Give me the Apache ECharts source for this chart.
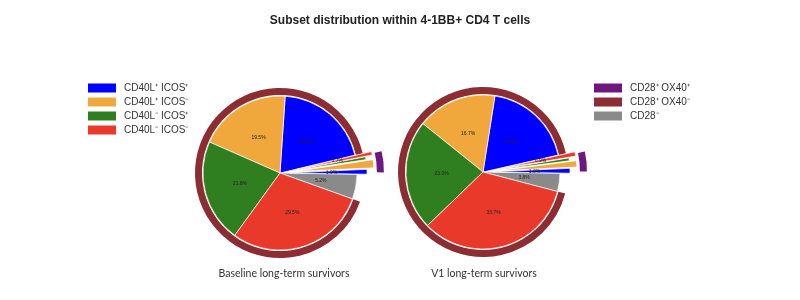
<!DOCTYPE html>
<html>
<head>
<meta charset="utf-8">
<script src="https://cdn.jsdelivr.net/npm/echarts@6/dist/echarts.min.js"></script>
<style>
  html, body { margin: 0; padding: 0; background: #fff; }
  #chart { width: 800px; height: 300px; }
</style>
</head>
<body>
<div id="chart"></div>
<script>
const chartTitle = "Subset distribution within 4-1BB+ CD4 T cells";
const panelTitles = ["Baseline long-term survivors", "V1 long-term survivors"];
const subsetNames = ["CD40L⁺ ICOS⁺", "CD40L⁺ ICOS⁻", "CD40L⁻ ICOS⁺", "CD40L⁻ ICOS⁻"];
const cd28Names = ["CD28⁺ OX40⁺", "CD28⁺ OX40⁻", "CD28⁻"];

// inner pie, % of 4-1BB+ CD4 T cells
const baselineMain = [20.2, 19.5, 21.6, 29.5];   // CD28+ OX40- split
const baselineSliver = [1.0, 1.7, 0.6, 0.7];     // CD28+ OX40+ split (exploded)
const baselineCD28neg = 5.2;
const baselineRing = [4.0, 90.8, 5.2];           // OX40+, OX40-, CD28-

const v1Main = [19.0, 16.7, 23.0, 33.7];
const v1Sliver = [1.0, 1.3, 0.6, 0.9];
const v1CD28neg = 3.8;
const v1Ring = [3.8, 92.4, 3.8];

const subsetColors = ["#0000ff", "#f0a83c", "#2f7e1f", "#e8392a"];
const cd28Colors = ["#6e1780", "#8c2d34", "#8a8a8a"];

const el = (id) => document.getElementById(id);
const chart = echarts.init(el("chart"));

const longSliver = [1, 3]; // these are pushed out further

function hidden(name, value) {
  return { name, value, itemStyle: { color: "transparent", borderWidth: 0 }, label: { show: false } };
}

function pieSeries(center, startAngle, radius, offset, data) {
  return {
    type: "pie",
    center, radius, startAngle,
    clockwise: false,
    selectedMode: "multiple",
    selectedOffset: offset,
    avoidLabelOverlap: false,
    animation: false,
    silent: true,
    label: {
      show: true, position: "inside", fontSize: 5, color: "#222",
      fontFamily: "Liberation Sans",
      formatter: (p) => p.value.toFixed(1) + "%"
    },
    labelLine: { show: false },
    itemStyle: { borderColor: "rgba(255,255,255,0.85)", borderWidth: 0.8 },
    emphasis: { disabled: true },
    data
  };
}

function panel(center, main, sliver, grey, ring, key) {
  const start = -1 - grey * 3.6;
  // sliver items get their own names so that "selected" does not spread to the main slices
  const sliverItem = (v, i) => ({ name: key + "x" + i, value: v, selected: true, itemStyle: { color: subsetColors[i] } });
  const mainData = [
    { name: cd28Names[2], value: grey, itemStyle: { color: cd28Colors[2] } },
    ...sliver.map((v, i) => longSliver.includes(i) ? hidden(key + "s" + i, v) : sliverItem(v, i)),
    ...main.map((v, i) => ({ name: subsetNames[i], value: v, itemStyle: { color: subsetColors[i] } }))
  ];
  const extraData = [
    hidden(key + "g", grey),
    ...sliver.map((v, i) => longSliver.includes(i) ? sliverItem(v, i) : hidden(key + "t" + i, v)),
    ...main.map((v, i) => hidden(key + "m" + i, v))
  ];
  const ringData = [
    hidden(key + "r", ring[2]),
    { name: cd28Names[0], value: ring[0], selected: true, itemStyle: { color: cd28Colors[0] } },
    { name: cd28Names[1], value: ring[1], itemStyle: { color: cd28Colors[1] } }
  ];
  const ringSeries = pieSeries(center, start, [78, 85], 19, ringData);
  ringSeries.label = { show: false };
  ringSeries.itemStyle = { borderWidth: 0 };
  return [
    ringSeries,
    pieSeries(center, start, [0, 77], 10, mainData),
    pieSeries(center, start, [0, 77], 17, extraData)
  ];
}

const legendBase = {
  orient: "vertical",
  icon: "rect",
  itemWidth: 28,
  itemHeight: 9,
  itemGap: 4,
  selectedMode: false,
  itemStyle: { borderWidth: 0 },
  textStyle: { fontSize: 10, color: "#333", fontFamily: "Liberation Sans", padding: [0, 0, 0, 3] }
};

chart.setOption({
  animation: false,
  title: {
    text: chartTitle, left: "center", top: 10,
    textStyle: { fontSize: 12, fontWeight: "bold", color: "#222", fontFamily: "Liberation Sans" }
  },
  legend: [
    Object.assign({}, legendBase, { data: subsetNames, left: 83, top: 78 }),
    Object.assign({}, legendBase, { data: cd28Names, left: 589, top: 78 })
  ],
  graphic: [
    { type: "text", x: 284, y: 274, style: { text: panelTitles[0], align: "center", verticalAlign: "middle", font: "10.5px Lato", fill: "#333" } },
    { type: "text", x: 484, y: 274, style: { text: panelTitles[1], align: "center", verticalAlign: "middle", font: "10.5px Lato", fill: "#333" } }
  ],
  series: [
    ...panel([280, 173], baselineMain, baselineSliver, baselineCD28neg, baselineRing, "b"),
    ...panel([483, 172], v1Main, v1Sliver, v1CD28neg, v1Ring, "v")
  ]
});
</script>
</body>
</html>
